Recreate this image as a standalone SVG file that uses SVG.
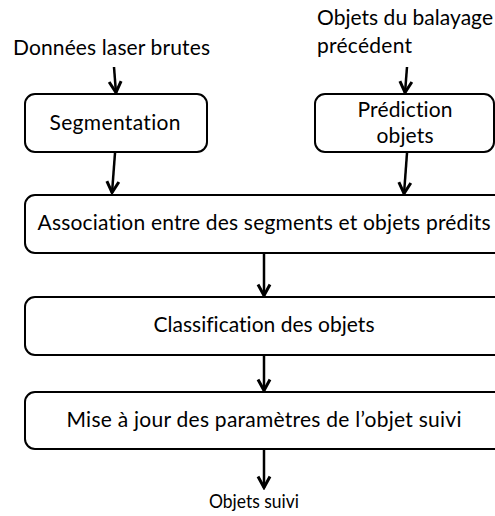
<svg xmlns="http://www.w3.org/2000/svg" width="495" height="516" viewBox="0 0 495 516">
<style>
.box{fill:#fff;stroke:#000;stroke-width:2}
.t{font-family:Lato,"Open Sans",sans-serif;font-size:21px;fill:#000;font-variant-ligatures:none;font-feature-settings:"liga" 0}
.c{text-anchor:middle}
.con{stroke:#000;stroke-width:2.5;fill:none;marker-end:url(#ah)}
</style>
<defs>
<marker id="ah" viewBox="0 0 16 16" refX="14.5" refY="8" markerWidth="16" markerHeight="16" markerUnits="userSpaceOnUse" orient="auto">
<polyline points="3,2 14,8 3,14" fill="none" stroke="#000" stroke-width="3"/>
</marker>
</defs>
<rect width="495" height="516" fill="#fff"/>
<text class="t" x="13" y="55" textLength="197">Données laser brutes</text>
<text class="t" x="317" y="25" textLength="176">Objets du balayage</text>
<text class="t" x="317" y="53" textLength="95">précédent</text>
<g id="segmentation">
<rect class="box" x="25" y="94" width="182" height="58" rx="10"/>
<text class="t c" x="115" y="130" textLength="131">Segmentation</text>
</g>
<g id="prediction">
<rect class="box" x="315" y="94" width="179" height="58" rx="10"/>
<text class="t c" x="405" y="117" textLength="95">Prédiction</text>
<text class="t c" x="405" y="143" textLength="57">objets</text>
</g>
<g id="association">
<rect class="box" x="25" y="195" width="480" height="58" rx="10"/>
<text class="t c" x="264" y="230" textLength="453">Association entre des segments et objets prédits</text>
</g>
<g id="classification">
<rect class="box" x="25" y="297" width="480" height="58" rx="10"/>
<text class="t c" x="264" y="332" textLength="221">Classification des objets</text>
</g>
<g id="miseajour">
<rect class="box" x="25" y="392" width="480" height="57" rx="10"/>
<text class="t c" x="264" y="427" textLength="395">Mise à jour des paramètres de l’objet suivi</text>
</g>
<text class="t c" x="254" y="508" style="font-size:20px" textLength="90" lengthAdjust="spacingAndGlyphs">Objets suivi</text>
<g id="connectors">
<line class="con" x1="114" y1="67" x2="116" y2="93"/>
<line class="con" x1="115" y1="153" x2="112" y2="193"/>
<line class="con" x1="407" y1="67" x2="405" y2="93"/>
<line class="con" x1="407" y1="153" x2="404" y2="194"/>
<line class="con" x1="264" y1="254" x2="264" y2="296"/>
<line class="con" x1="264" y1="356" x2="264" y2="391"/>
<line class="con" x1="264" y1="450" x2="264" y2="488"/>
</g>
</svg>
